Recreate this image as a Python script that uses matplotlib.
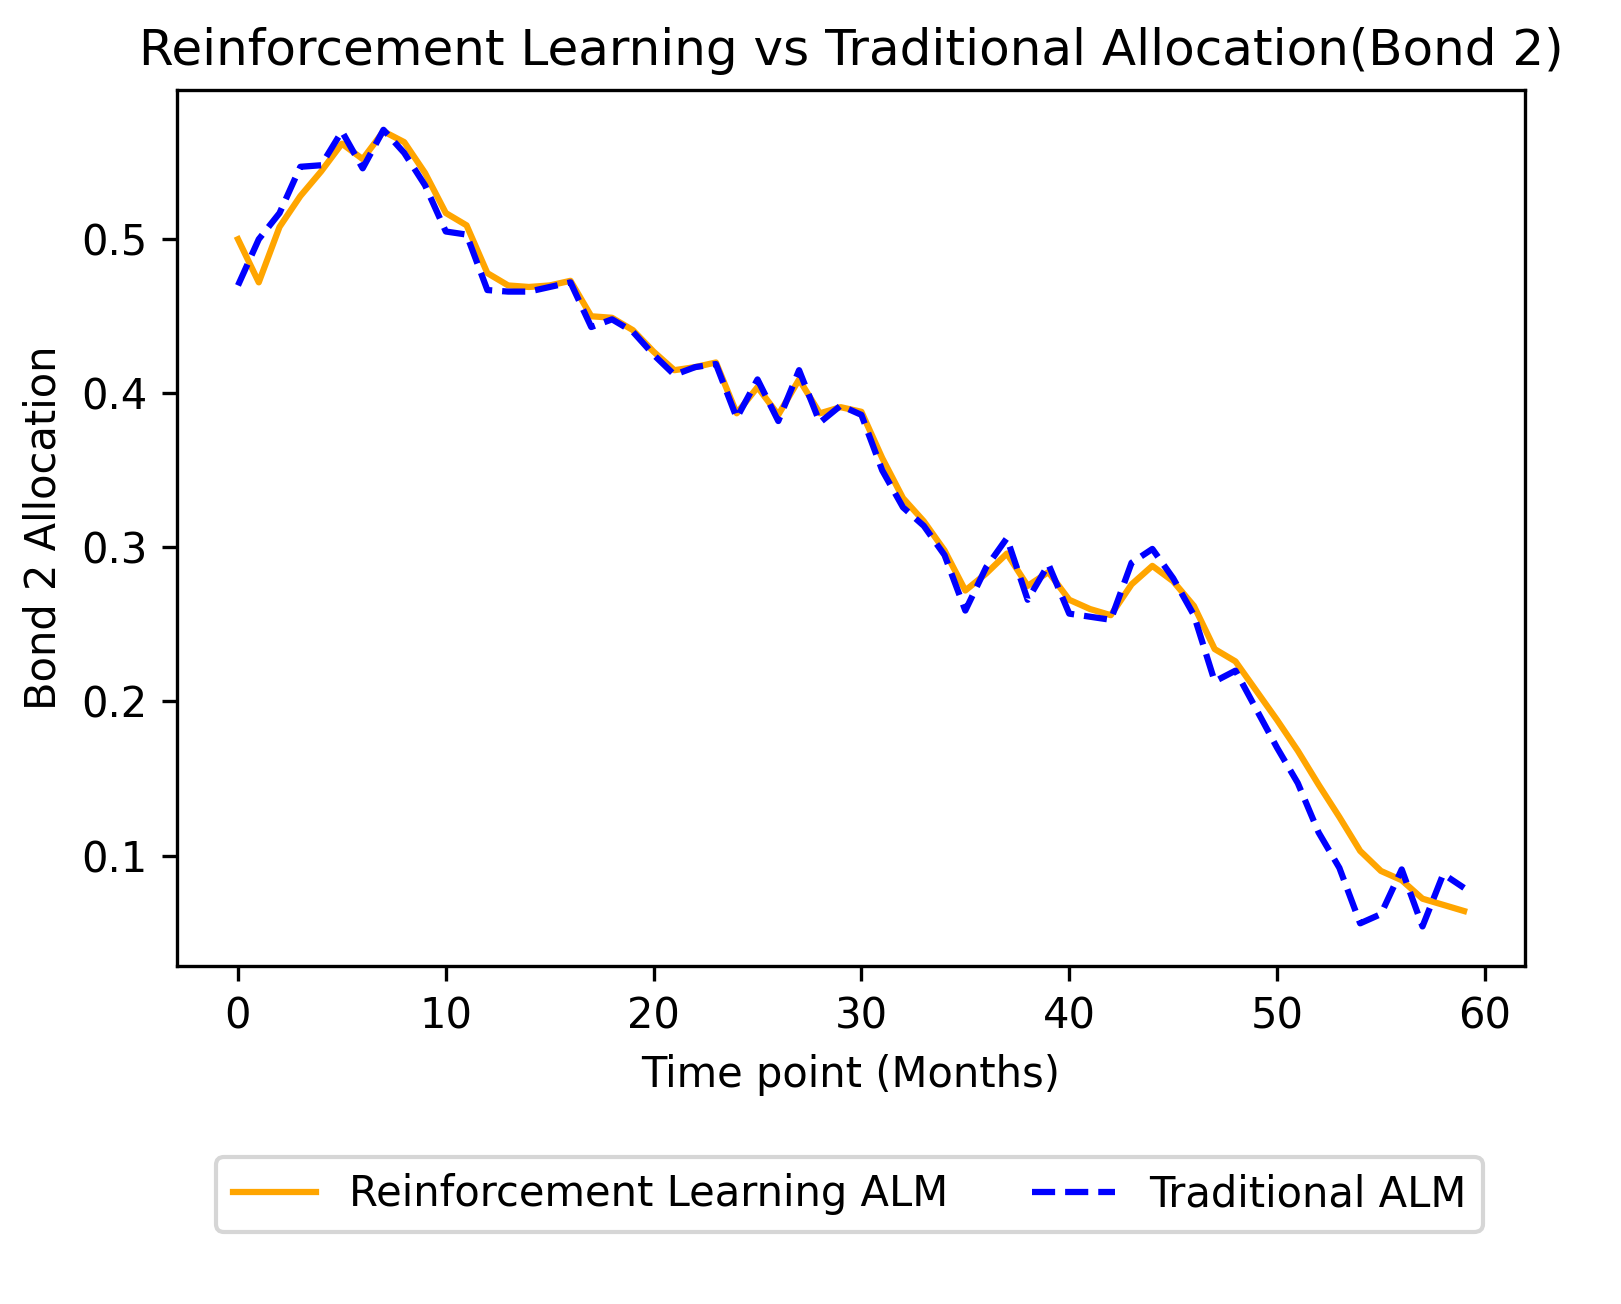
import numpy as np
from matplotlib import pyplot as plt

months = np.arange(60)
rl_alloc = [0.500, 0.472, 0.508, 0.528, 0.544, 0.562, 0.552, 0.570, 0.563, 0.543,
            0.517, 0.509, 0.478, 0.470, 0.469, 0.470, 0.473, 0.450, 0.449, 0.441,
            0.427, 0.415, 0.417, 0.420, 0.387, 0.404, 0.386, 0.409, 0.387, 0.391,
            0.388, 0.358, 0.332, 0.317, 0.298, 0.272, 0.283, 0.296, 0.275, 0.284,
            0.266, 0.260, 0.256, 0.276, 0.288, 0.278, 0.262, 0.234, 0.226, 0.207,
            0.188, 0.168, 0.146, 0.125, 0.103, 0.090, 0.084, 0.072, 0.068, 0.064]
trad_alloc = [0.470, 0.500, 0.517, 0.547, 0.548, 0.570, 0.546, 0.571, 0.556, 0.535,
              0.505, 0.503, 0.467, 0.466, 0.466, 0.469, 0.472, 0.443, 0.448, 0.440,
              0.425, 0.412, 0.417, 0.419, 0.384, 0.409, 0.382, 0.415, 0.381, 0.392,
              0.386, 0.350, 0.326, 0.314, 0.295, 0.259, 0.287, 0.306, 0.266, 0.289,
              0.257, 0.255, 0.253, 0.290, 0.299, 0.280, 0.256, 0.213, 0.220, 0.195,
              0.170, 0.147, 0.115, 0.092, 0.056, 0.062, 0.091, 0.054, 0.088, 0.079]

fig = plt.figure(figsize=(1621/300, 1304/300), dpi=300)
ax = fig.add_axes([0.109, 0.259, 0.832, 0.672])
ax.plot(months, rl_alloc, color="orange", label="Reinforcement Learning ALM")
ax.plot(months, trad_alloc, color="blue", linestyle="--", label="Traditional ALM")
ax.set_xlabel("Time point (Months)")
ax.set_ylabel("Bond 2 Allocation")
ax.set_title("Reinforcement Learning vs Traditional Allocation(Bond 2)")
ax.set_yticks([0.1, 0.2, 0.3, 0.4, 0.5])
fig.legend(loc="center", bbox_to_anchor=(0.524, 0.084), ncol=2)
fig.savefig("out.png", dpi=300)
